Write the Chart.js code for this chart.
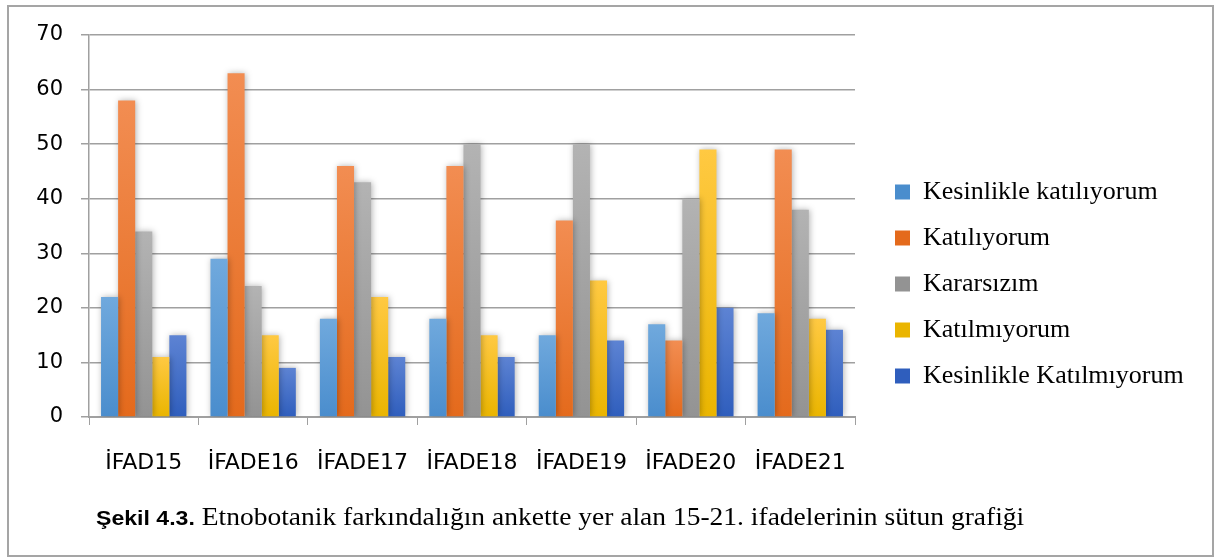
<!DOCTYPE html>
<html>
<head>
<meta charset="utf-8">
<script src="https://cdn.jsdelivr.net/npm/chart.js@4.4.1/dist/chart.umd.min.js"></script>
<style>
  body { margin: 0; background: #fff; }
  #frame {
    position: absolute; left: 7px; top: 5px; width: 1207px; height: 552px;
    box-sizing: border-box; border: 2px solid #a5a5a5;
  }
  #wrap { position: absolute; left: 0; top: 0; width: 1218px; height: 559px; }
  #caption {
    position: absolute; left: 96px; top: 503px; white-space: nowrap;
    font-family: "Liberation Serif", serif; font-size: 25px; line-height: 28px; color: #000;
    transform: scaleX(1.1); transform-origin: 0 0;
  }
  #caption b { font-family: "Liberation Sans", sans-serif; font-size: 21px; }
</style>
</head>
<body>
<div id="frame"></div>
<div id="wrap"><canvas id="chart" width="1218" height="559"></canvas></div>
<div id="caption"><b>Şekil 4.3.</b> Etnobotanik farkındalığın ankette yer alan 15-21. ifadelerinin sütun grafiği</div>

<script>
// Categories and answers per statement
const categories = ['İFAD15', 'İFADE16', 'İFADE17', 'İFADE18', 'İFADE19', 'İFADE20', 'İFADE21'];
const kesinlikleKatiliyorum = [22, 29, 18, 18, 15, 17, 19];
const katiliyorum = [58, 63, 46, 46, 36, 14, 49];
const kararsizim = [34, 24, 43, 50, 50, 40, 38];
const katilmiyorum = [11, 15, 22, 15, 25, 49, 18];
const kesinlikleKatilmiyorum = [15, 9, 11, 11, 14, 20, 16];
const yTicks = [0, 10, 20, 30, 40, 50, 60, 70];

// top / bottom colours of each bar gradient
const palette = [
  ['#70a9dd', '#4a8dcd'],
  ['#f28d52', '#e46a1c'],
  ['#b3b3b3', '#939393'],
  ['#ffc942', '#eab500'],
  ['#5d83d3', '#2f5ebd']
];

function barGradient(idx) {
  return function(context) {
    const chart = context.chart;
    if (!chart.chartArea || context.type !== 'data') return palette[idx][1];
    const y = chart.scales.y;
    const top = y.getPixelForValue(context.parsed.y);
    const bottom = y.getPixelForValue(0);
    if (!isFinite(top) || bottom - top < 1) return palette[idx][1];
    const g = chart.ctx.createLinearGradient(0, top, 0, bottom);
    g.addColorStop(0, palette[idx][0]);
    g.addColorStop(1, palette[idx][1]);
    return g;
  };
}

// soft shadow behind the bars
const barShadow = {
  id: 'barShadow',
  beforeDatasetsDraw(chart) {
    const ctx = chart.ctx;
    ctx.save();
    ctx.shadowColor = 'rgba(0,0,0,0.3)';
    ctx.shadowBlur = 6;
    ctx.shadowOffsetX = 1;
  },
  afterDatasetsDraw(chart) {
    chart.ctx.restore();
  }
};

// move the legend column to where the reference has it
const legendShift = {
  id: 'legendShift',
  afterLayout(chart) {
    const lg = chart.legend;
    const dx = 895 - (lg.left + lg.options.labels.padding);
    lg.left += dx;
    lg.right = chart.width;
    lg.width = lg.right - lg.left;
  }
};

const names = ['Kesinlikle katılıyorum', 'Katılıyorum', 'Kararsızım', 'Katılmıyorum', 'Kesinlikle Katılmıyorum'];
const series = [kesinlikleKatiliyorum, katiliyorum, kararsizim, katilmiyorum, kesinlikleKatilmiyorum];

const datasets = series.map((vals, i) => ({
  label: names[i],
  data: vals,
  backgroundColor: barGradient(i),
  borderWidth: 0,
  barPercentage: 1,
  categoryPercentage: 0.78
}));

new Chart(document.getElementById('chart'), {
  type: 'bar',
  data: { labels: categories, datasets: datasets },
  plugins: [barShadow, legendShift],
  options: {
    responsive: false,
    animation: false,
    layout: { padding: { left: 0, top: 35, right: 63, bottom: 26 } },
    scales: {
      x: {
        grid: { offset: true, drawOnChartArea: false, tickLength: 8, color: '#a0a0a0' },
        border: { color: '#a0a0a0', width: 2 },
        ticks: { color: '#000', padding: 25, font: { family: 'DejaVu Sans', size: 22 } },
        afterFit(scale) { scale.height = 116; }
      },
      y: {
        min: 0,
        max: 70,
        afterBuildTicks(scale) { scale.ticks = yTicks.map(v => ({ value: v })); },
        grid: { tickLength: 8, color: '#a0a0a0', lineWidth: 1.5 },
        border: { color: '#a0a0a0', width: 1.5 },
        ticks: { color: '#000', padding: 18, font: { family: 'DejaVu Sans', size: 21 } },
        afterFit(scale) { scale.width = 89; }
      }
    },
    plugins: {
      legend: {
        position: 'right',
        align: 'center',
        maxWidth: 300,
        labels: {
          color: '#000',
          boxWidth: 15,
          boxHeight: 15,
          padding: 20,
          font: { family: 'Liberation Serif', size: 26 },
          generateLabels(chart) {
            return chart.data.datasets.map((ds, i) => ({
              text: ds.label,
              fillStyle: palette[i][1],
              strokeStyle: palette[i][1],
              lineWidth: 0,
              datasetIndex: i,
              hidden: false
            }));
          }
        }
      },
      tooltip: { enabled: false }
    }
  }
});
</script>
</body>
</html>
